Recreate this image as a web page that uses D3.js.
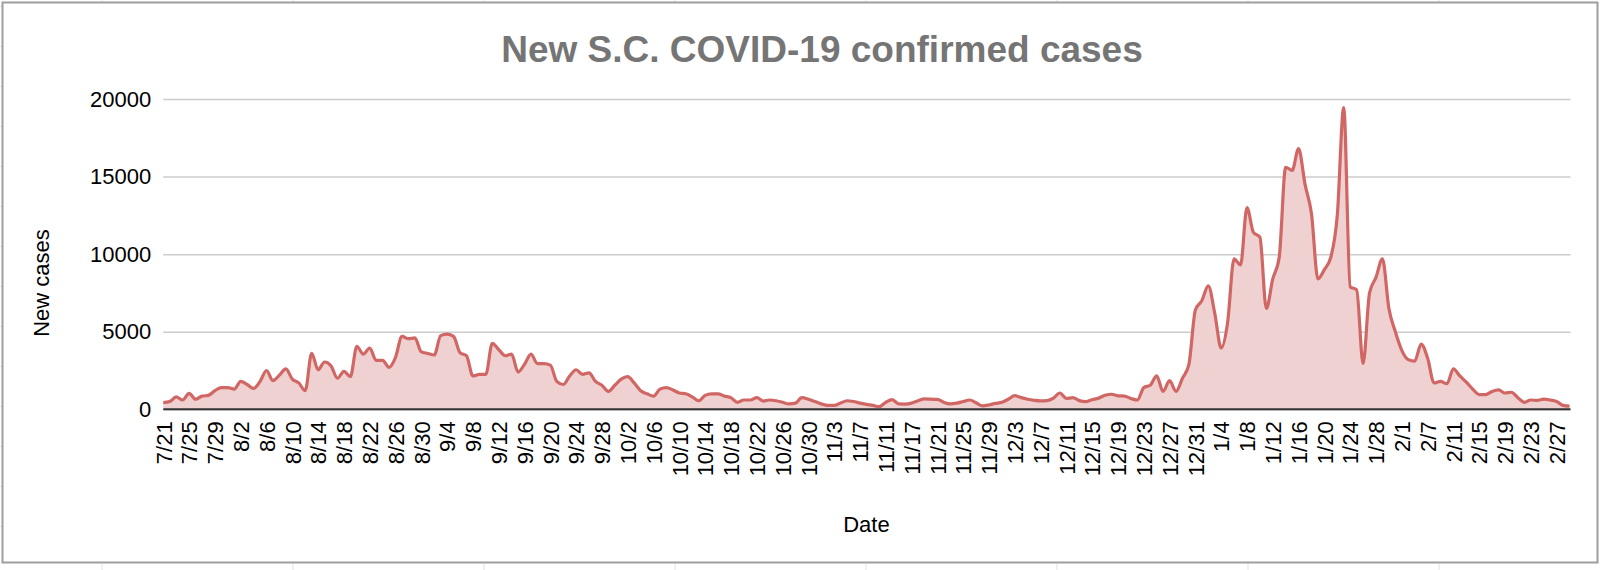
<!DOCTYPE html>
<html>
<head>
<meta charset="utf-8">
<script src="https://cdn.jsdelivr.net/npm/d3@7"></script>
<style>
  html, body { margin: 0; padding: 0; background: #fff; }
  svg { display: block; font-family: "Liberation Sans", Arial, sans-serif; }
</style>
</head>
<body>
<div id="chart"></div>
<script>
// =========================
// Data
// =========================
// months covered, as [month, firstDay, lastDay]
const monthSpans = [[7, 21, 31], [8, 1, 31], [9, 1, 30], [10, 1, 31], [11, 1, 30],
                    [12, 1, 31], [1, 1, 31], [2, 1, 28], [3, 1, 1]];
// days with no report in the sheet
const skippedDates = ["9/2", "11/13", "11/14", "2/5", "2/6"];

const dates = monthSpans
    .flatMap(([m, a, b]) => d3.range(a, b + 1).map(d => `${m}/${d}`))
    .filter(d => !skippedDates.includes(d));

const newCases = [
  430, 500, 800, 600, 1030, 650, 850, 900, 1200, 1400,
  1400, 1300, 1800, 1600, 1350, 1800, 2500, 1850, 2200, 2600,
  1950, 1700, 1200, 3600, 2550, 3050, 2800, 2000, 2450, 2100,
  4050, 3550, 3950, 3150, 3150, 2700, 3350, 4700, 4550, 4600,
  3700, 3600, 3500, 4750, 4850, 4700, 3650, 3450, 2150, 2250,
  2250, 4250, 3850, 3450, 3550, 2400, 2900, 3550, 2950, 2950,
  2850, 1800, 1600, 2150, 2550, 2250, 2350, 1800, 1550, 1150,
  1550, 1950, 2100, 1700, 1200, 1000, 850, 1300, 1400, 1250,
  1050, 1000, 800, 550, 900, 1000, 1000, 850, 750, 450,
  600, 600, 750, 530, 600, 550, 450, 350, 400, 750,
  650, 500, 350, 250, 250, 400, 550, 500, 400, 320,
  250, 170, 450, 620, 350, 340, 400, 550, 670, 650,
  640, 450, 350, 400, 500, 600, 420, 220, 280, 380,
  450, 650, 880, 750, 650, 580, 540, 560, 720, 1050,
  700, 750, 560, 500, 620, 720, 900, 970, 870, 850,
  700, 600, 1400, 1550, 2150, 1150, 1850, 1150, 2000, 2900,
  6400, 7000, 7950, 6200, 3950, 5600, 9700, 9300, 13000, 11400,
  11100, 6500, 8400, 9800, 15600, 15400, 16800, 14500, 12600, 8400,
  9000, 9800, 12500, 19450, 7900, 7700, 2950, 7500, 8500, 9700,
  6500, 5000, 3800, 3200, 3100, 4200, 3300, 1700, 1800, 1650,
  2600, 2150, 1750, 1300, 950, 950, 1150, 1250, 1050, 1100,
  750, 450, 600, 570, 650, 600, 500, 250, 200
];

const yTicks = [0, 5000, 10000, 15000, 20000];
// every 4th row gets a label
const xTickLabels = dates.filter((d, i) => i % 4 === 0);

const data = dates.map((d, i) => ({ date: d, cases: newCases[i] }));

// =========================
// Layout
// =========================
const width = 1600, height = 570;
const plot = { left: 163.3, right: 1569.5, top: 99, bottom: 409.3 };

const svg = d3.select("#chart").append("svg")
    .attr("width", width)
    .attr("height", height);

svg.append("rect")
    .attr("width", width).attr("height", height)
    .attr("fill", "#fff");

// faint sheet cells peeking out around the chart box
const sheet = svg.append("g").attr("stroke", "#e2e2e2").attr("stroke-width", 1);
d3.range(102, width, 191).forEach(cx => {
    sheet.append("line").attr("x1", cx).attr("x2", cx).attr("y1", 0).attr("y2", 2);
    sheet.append("line").attr("x1", cx).attr("x2", cx).attr("y1", 564).attr("y2", height);
});
d3.range(6.5, 562, 40).forEach(cy => {
    sheet.append("line").attr("x1", 0).attr("x2", 2).attr("y1", cy).attr("y2", cy);
});

// chart box
svg.append("rect")
    .attr("x", 2.5).attr("y", 2.5)
    .attr("width", 1595).attr("height", 560)
    .attr("fill", "#fff")
    .attr("stroke", "#9e9e9e")
    .attr("stroke-width", 2);

const x = d3.scalePoint()
    .domain(dates)
    .range([plot.left, plot.right]);

const y = d3.scaleLinear()
    .domain([0, 20000])
    .range([plot.bottom, plot.top]);

// ---- Y AXIS + GRID ----
const yAxis = svg.append("g")
    .attr("transform", `translate(${plot.left},0)`)
    .call(d3.axisLeft(y)
        .tickValues(yTicks)
        .tickSize(-(plot.right - plot.left + 1))
        .tickPadding(12)
        .tickFormat(d => d));

yAxis.select(".domain").remove();
yAxis.selectAll(".tick line")
    .attr("stroke", "#cccccc")
    .attr("stroke-width", 1.5);
yAxis.selectAll(".tick text")
    .attr("fill", "#000")
    .attr("font-size", "22px")
    .attr("font-family", "Liberation Sans, Arial, sans-serif");

// ---- AREA + LINE ----
const area = d3.area()
    .x(d => x(d.date))
    .y0(y(0))
    .y1(d => y(d.cases))
    .curve(d3.curveMonotoneX);

const line = d3.line()
    .x(d => x(d.date))
    .y(d => y(d.cases))
    .curve(d3.curveMonotoneX);

svg.append("path")
    .datum(data)
    .attr("d", area)
    .attr("fill", "#f0d1d1");

svg.append("path")
    .datum(data)
    .attr("d", line)
    .attr("fill", "none")
    .attr("stroke", "#d06764")
    .attr("stroke-width", 3.2)
    .attr("stroke-linejoin", "round");

// ---- X AXIS ----
const xAxis = svg.append("g")
    .attr("transform", `translate(0,${plot.bottom})`)
    .call(d3.axisBottom(x)
        .tickValues(xTickLabels)
        .tickSize(0));

xAxis.select(".domain").remove();
xAxis.selectAll(".tick text")
    .attr("transform", "rotate(-90)")
    .attr("x", -12)
    .attr("y", 0)
    .attr("dy", "0.35em")
    .attr("text-anchor", "end")
    .attr("fill", "#000")
    .attr("font-size", "22px")
    .attr("font-family", "Liberation Sans, Arial, sans-serif");

// baseline
svg.append("line")
    .attr("x1", plot.left).attr("x2", plot.right + 1)
    .attr("y1", plot.bottom).attr("y2", plot.bottom)
    .attr("stroke", "#333")
    .attr("stroke-width", 2);

// ---- TITLES ----
svg.append("text")
    .attr("x", 822)
    .attr("y", 62)
    .attr("text-anchor", "middle")
    .attr("font-size", "37px")
    .attr("font-weight", "bold")
    .attr("fill", "#757575")
    .text("New S.C. COVID-19 confirmed cases");

svg.append("text")
    .attr("transform", "translate(49,283) rotate(-90)")
    .attr("text-anchor", "middle")
    .attr("font-size", "22px")
    .attr("fill", "#000")
    .text("New cases");

svg.append("text")
    .attr("x", (plot.left + plot.right) / 2)
    .attr("y", 532)
    .attr("text-anchor", "middle")
    .attr("font-size", "22px")
    .attr("fill", "#000")
    .text("Date");
</script>
</body>
</html>
